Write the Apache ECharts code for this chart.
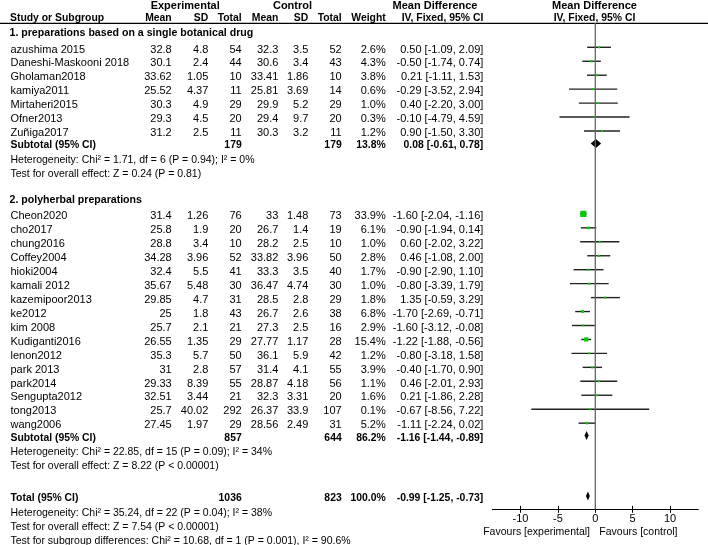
<!DOCTYPE html>
<html lang="en">
<head>
<meta charset="UTF-8">
<title>Forest plot</title>
<script src="https://cdn.jsdelivr.net/npm/echarts@6/dist/echarts.min.js"></script>
<style>html, body { margin: 0; padding: 0; background: #fff; }</style>
</head>
<body>
<div id="main" style="width: 708px; height: 545px"></div>
<script type="text/javascript">
// ---- data ----
var groupTitles = ['1. preparations based on a single botanical drug', '2. polyherbal preparations'];
var groupSizes = [7, 16];
var studyNames = ['azushima 2015', 'Daneshi-Maskooni 2018', 'Gholaman2018', 'kamiya2011', 'Mirtaheri2015', 'Ofner2013', 'Zuñiga2017',
    'Cheon2020', 'cho2017', 'chung2016', 'Coffey2004', 'hioki2004', 'kamali 2012', 'kazemipoor2013', 'ke2012', 'kim 2008',
    'Kudiganti2016', 'lenon2012', 'park 2013', 'park2014', 'Sengupta2012', 'tong2013', 'wang2006'];
var expMean = [32.8, 30.1, 33.62, 25.52, 30.3, 29.3, 31.2, 31.4, 25.8, 28.8, 34.28, 32.4, 35.67, 29.85, 25, 25.7, 26.55, 35.3, 31, 29.33, 32.51, 25.7, 27.45];
var expSD = [4.8, 2.4, 1.05, 4.37, 4.9, 4.5, 2.5, 1.26, 1.9, 3.4, 3.96, 5.5, 5.48, 4.7, 1.8, 2.1, 1.35, 5.7, 2.8, 8.39, 3.44, 40.02, 1.97];
var expTotal = [54, 44, 10, 11, 29, 20, 11, 76, 20, 10, 52, 41, 30, 31, 43, 21, 29, 50, 57, 55, 21, 292, 29];
var ctlMean = [32.3, 30.6, 33.41, 25.81, 29.9, 29.4, 30.3, 33, 26.7, 28.2, 33.82, 33.3, 36.47, 28.5, 26.7, 27.3, 27.77, 36.1, 31.4, 28.87, 32.3, 26.37, 28.56];
var ctlSD = [3.5, 3.4, 1.86, 3.69, 5.2, 9.7, 3.2, 1.48, 1.4, 2.5, 3.96, 3.5, 4.74, 2.8, 2.6, 2.5, 1.17, 5.9, 4.1, 4.18, 3.31, 33.9, 2.49];
var ctlTotal = [52, 43, 10, 14, 29, 20, 11, 73, 19, 10, 50, 40, 30, 29, 38, 16, 28, 42, 55, 56, 20, 107, 31];
var weights = [2.6, 4.3, 3.8, 0.6, 1.0, 0.3, 1.2, 33.9, 6.1, 1.0, 2.8, 1.7, 1.0, 1.8, 6.8, 2.9, 15.4, 1.2, 3.9, 1.1, 1.6, 0.1, 5.2];
var meanDiff = [0.50, -0.50, 0.21, -0.29, 0.40, -0.10, 0.90, -1.60, -0.90, 0.60, 0.46, -0.90, -0.80, 1.35, -1.70, -1.60, -1.22, -0.80, -0.40, 0.46, 0.21, -0.67, -1.11];
var ciLow = [-1.09, -1.74, -1.11, -3.52, -2.20, -4.79, -1.50, -2.04, -1.94, -2.02, -1.08, -2.90, -3.39, -0.59, -2.69, -3.12, -1.88, -3.18, -1.70, -2.01, -1.86, -8.56, -2.24];
var ciHigh = [2.09, 0.74, 1.53, 2.94, 3.00, 4.59, 3.30, -1.16, 0.14, 3.22, 2.00, 1.10, 1.79, 3.29, -0.71, -0.08, -0.56, 1.58, 0.90, 2.93, 2.28, 7.22, 0.02];

var subExpTotal = [179, 857];
var subCtlTotal = [179, 644];
var subWeight = [13.8, 86.2];
var subMD = [0.08, -1.16];
var subLow = [-0.61, -1.44];
var subHigh = [0.78, -0.89];
var subHet = ['Heterogeneity: Chi² = 1.71, df = 6 (P = 0.94); I² = 0%',
    'Heterogeneity: Chi² = 22.85, df = 15 (P = 0.09); I² = 34%'];
var subTest = ['Test for overall effect: Z = 0.24 (P = 0.81)',
    'Test for overall effect: Z = 8.22 (P < 0.00001)'];

var totalN = [1036, 823];
var totalWeight = 100.0;
var totalEffect = [-0.99, -1.25, -0.73];
var totalNotes = ['Heterogeneity: Chi² = 35.24, df = 22 (P = 0.04); I² = 38%',
    'Test for overall effect: Z = 7.54 (P < 0.00001)',
    'Test for subgroup differences: Chi² = 10.68, df = 1 (P = 0.001), I² = 90.6%'];

var axisTicks = [-10, -5, 0, 5, 10];
var favours = ['Favours [experimental]', 'Favours [control]'];

// ---- layout ----
var FONT = '"Liberation Sans", Arial, sans-serif';
var W = 708, H = 545;
var axisY = 509.3, headY = 23.3;
var col = { name: 10.5, expMean: 171.7, expSD: 208.3, expN: 241.7, ctlMean: 278.3, ctlSD: 308.3, ctlN: 341.7, weight: 385.7, ci: 483.3 };
var markShift = -2.2;
var BOLD = 10.4, NOTE = 10.5;

var cells = [];
var marks = [];
function cell(x, y, text, align, bold, size) {
    cells.push({ x: x, y: y, text: String(text), align: align || 'right', bold: !!bold, size: size || (bold ? BOLD : 11) });
}
function ciText(m, l, h) {
    return m.toFixed(2) + ' [' + l.toFixed(2) + ', ' + h.toFixed(2) + ']';
}

// headers
cell(185.2, 5.5, 'Experimental', 'center', true, 11);
cell(292.5, 5.5, 'Control', 'center', true, 11);
cell(435, 5.5, 'Mean Difference', 'center', true, 11);
cell(594.5, 5.5, 'Mean Difference', 'center', true, 11);
cell(col.name - 0.5, 18, 'Study or Subgroup', 'left', true);
cell(col.expMean, 18, 'Mean', 'right', true);
cell(col.expSD, 18, 'SD', 'right', true);
cell(col.expN, 18, 'Total', 'right', true);
cell(col.ctlMean, 18, 'Mean', 'right', true);
cell(col.ctlSD, 18, 'SD', 'right', true);
cell(col.ctlN, 18, 'Total', 'right', true);
cell(col.weight, 18, 'Weight', 'right', true);
cell(col.ci, 18, 'IV, Fixed, 95% CI', 'right', true);
cell(594.5, 18, 'IV, Fixed, 95% CI', 'center', true);

var y = 33.5, start = 0;
groupSizes.forEach(function (n, g) {
    cell(col.name - 1, y, groupTitles[g], 'left', true, 10.6);
    y += 16;
    for (var i = start; i < start + n; i++) {
        if (i > start) y += 13.95;
        cell(col.name, y, studyNames[i], 'left');
        cell(col.expMean, y, expMean[i]);
        cell(col.expSD, y, expSD[i]);
        cell(col.expN, y, expTotal[i]);
        cell(col.ctlMean, y, ctlMean[i]);
        cell(col.ctlSD, y, ctlSD[i]);
        cell(col.ctlN, y, ctlTotal[i]);
        cell(col.weight, y, weights[i].toFixed(1) + '%');
        cell(col.ci, y, ciText(meanDiff[i], ciLow[i], ciHigh[i]));
        marks.push({ kind: 'study', y: y + markShift, md: meanDiff[i], lo: ciLow[i], hi: ciHigh[i],
            size: Math.max(2, 1.07 * Math.sqrt(weights[i])) });
    }
    start += n;
    y += 12.4;
    cell(col.name, y, 'Subtotal (95% CI)', 'left', true);
    cell(col.expN, y, subExpTotal[g], 'right', true);
    cell(col.ctlN, y, subCtlTotal[g], 'right', true);
    cell(col.weight, y, subWeight[g].toFixed(1) + '%', 'right', true);
    cell(col.ci, y, ciText(subMD[g], subLow[g], subHigh[g]), 'right', true);
    marks.push({ kind: 'diamond', y: y + markShift, md: subMD[g], lo: subLow[g], hi: subHigh[g] });
    y += 14.5;
    cell(col.name, y, subHet[g], 'left', false, NOTE);
    y += 14;
    cell(col.name, y, subTest[g], 'left', false, NOTE);
    y += 26;
});
y += 6;
cell(col.name, y, 'Total (95% CI)', 'left', true);
cell(col.expN, y, totalN[0], 'right', true);
cell(col.ctlN, y, totalN[1], 'right', true);
cell(col.weight, y, totalWeight.toFixed(1) + '%', 'right', true);
cell(col.ci, y, ciText(totalEffect[0], totalEffect[1], totalEffect[2]), 'right', true);
marks.push({ kind: 'diamond', y: y + markShift, md: totalEffect[0], lo: totalEffect[1], hi: totalEffect[2] });
y += 14.5;
cell(col.name, y, totalNotes[0], 'left', false, NOTE);
y += 14.8;
cell(col.name, y, totalNotes[1], 'left', false, NOTE);
y += 13.8;
cell(col.name, y, totalNotes[2], 'left', false, NOTE);

cell(590, 532, favours[0], 'right', false, NOTE);
cell(599.3, 532, favours[1], 'left', false, NOTE);

// ---- chart ----
var myChart = echarts.init(document.getElementById('main'));

var plotAxis = {
    gridIndex: 1, type: 'value', min: -13.75, max: 13.75, position: 'bottom',
    axisLine: { show: true, onZero: false, lineStyle: { color: '#000', width: 1 } },
    axisTick: { show: true, customValues: axisTicks, length: 3.5, lineStyle: { color: '#000', width: 1 } },
    axisLabel: { show: true, customValues: axisTicks, margin: 4.5, color: '#000', fontSize: 11, fontFamily: FONT },
    splitLine: { show: false }
};
var plotAxisInner = echarts.util.merge({}, plotAxis);
plotAxisInner.axisTick = { show: true, inside: true, customValues: axisTicks, length: 3.5, lineStyle: { color: '#000', width: 1 } };
plotAxisInner.axisLabel = { show: false };

option = {
    animation: false,
    backgroundColor: '#fff',
    grid: [
        { left: 0, top: 0, width: W, height: H },
        { left: 492.5, top: 0, width: 205.6, height: axisY }
    ],
    xAxis: [
        { gridIndex: 0, type: 'value', min: 0, max: W, show: false },
        plotAxis,
        plotAxisInner
    ],
    yAxis: [
        { gridIndex: 0, type: 'value', min: 0, max: H, inverse: true, show: false },
        { gridIndex: 1, type: 'value', min: 0, max: axisY, inverse: true, show: false }
    ],
    series: [
        {
            type: 'line', xAxisIndex: 0, yAxisIndex: 0, silent: true, symbol: 'none',
            lineStyle: { color: '#000', width: 1.2 },
            data: [[0, headY], [W, headY]]
        },
        {
            type: 'line', xAxisIndex: 1, yAxisIndex: 1, silent: true, symbol: 'none',
            lineStyle: { color: '#666', width: 1.3 },
            data: [[0, headY], [0, axisY]]
        },
        {
            type: 'custom', xAxisIndex: 1, yAxisIndex: 1, silent: true,
            data: marks.map(function (m) { return [m.md, m.y]; }),
            renderItem: function (params, api) {
                var m = marks[params.dataIndex];
                var a = api.coord([m.lo, m.y]), b = api.coord([m.hi, m.y]), c = api.coord([m.md, m.y]);
                if (m.kind === 'study') {
                    var h = m.size / 2;
                    return { type: 'group', children: [
                        { type: 'line', shape: { x1: a[0], y1: a[1], x2: b[0], y2: b[1] }, style: { stroke: '#222', lineWidth: 1.4 } },
                        { type: 'rect', shape: { x: c[0] - h, y: c[1] - h, width: m.size, height: m.size }, style: { fill: '#00cc00' } }
                    ] };
                }
                return { type: 'polygon', shape: { points: [[a[0], a[1]], [c[0], c[1] - 4.5], [b[0], b[1]], [c[0], c[1] + 4.5]] },
                    style: { fill: '#000' } };
            }
        },
        {
            type: 'custom', xAxisIndex: 0, yAxisIndex: 0, silent: true,
            data: cells.map(function (c) { return [c.x, c.y]; }),
            renderItem: function (params, api) {
                var c = cells[params.dataIndex];
                var p = api.coord([c.x, c.y]);
                return { type: 'text', x: p[0], y: p[1], style: {
                    text: c.text, fill: '#000', align: c.align, verticalAlign: 'middle',
                    font: (c.bold ? 'bold ' : '') + c.size + 'px ' + FONT } };
            }
        }
    ]
};

myChart.setOption(option);
</script>
</body>
</html>
